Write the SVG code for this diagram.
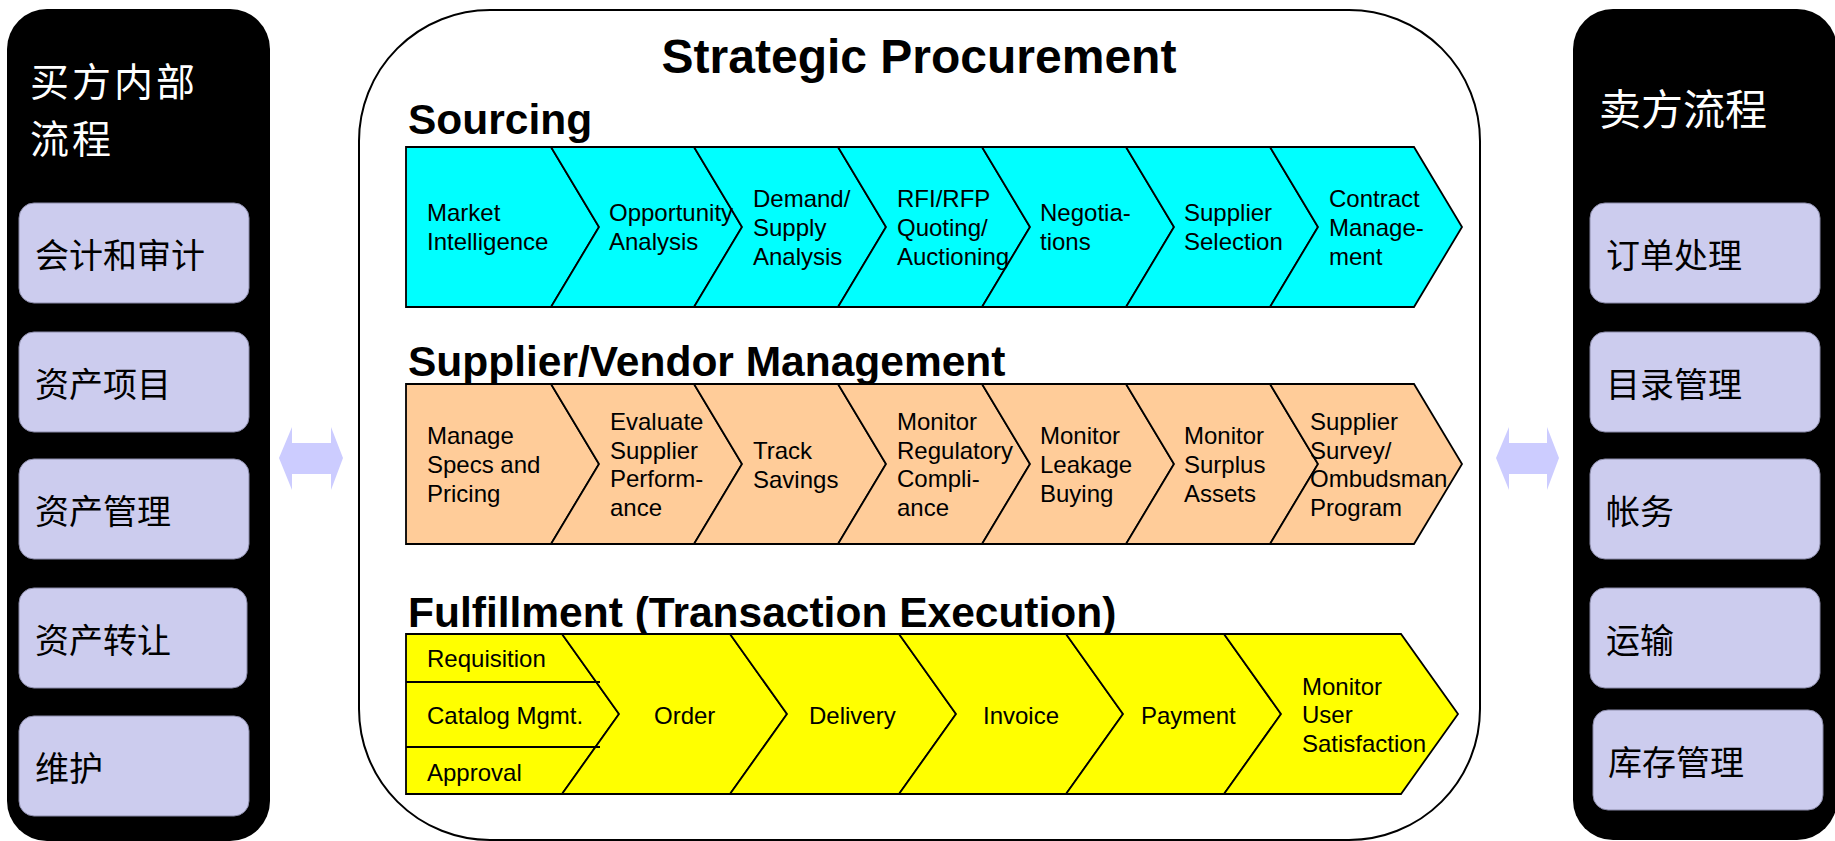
<svg xmlns="http://www.w3.org/2000/svg" width="1835" height="841" viewBox="0 0 1835 841">
<style>
.panel{fill:#000;}
.box{fill:#CCCCEE;stroke:#8a8aa8;stroke-width:1;}
.cnT{font-family:"Noto Sans CJK SC","Noto Sans CJK TC",sans-serif;font-size:42px;fill:#fff;}
.cnL{font-family:"Noto Sans CJK SC","Noto Sans CJK TC",sans-serif;font-size:39px;letter-spacing:3px;fill:#fff;}
.cn{font-family:"Noto Sans CJK SC","Noto Sans CJK TC",sans-serif;font-size:34px;fill:#000;}
.main{fill:#fff;stroke:#000;stroke-width:2;}
.title{font-family:"Liberation Sans",Arial,sans-serif;font-weight:bold;font-size:48px;fill:#000;}
.h{font-family:"Liberation Sans",Arial,sans-serif;font-weight:bold;font-size:42.5px;fill:#000;}
.t{font-family:"Liberation Sans",Arial,sans-serif;font-size:24px;fill:#000;}
.cy{fill:#00FFFF;stroke:#000;stroke-width:1.8;stroke-linejoin:miter;}
.pe{fill:#FFCC99;stroke:#000;stroke-width:1.8;stroke-linejoin:miter;}
.ye{fill:#FFFF00;stroke:#000;stroke-width:1.8;stroke-linejoin:miter;}
.dv{stroke:#000;stroke-width:1.8;}
.arr{fill:#CCCCFF;}
</style>

<g id="buyer-panel">
  <rect class="panel" x="7" y="9" width="263" height="832" rx="40"/>
  <text class="cnL"><tspan x="30" y="96">买方内部</tspan><tspan x="30" y="153">流程</tspan></text>
</g>
<g id="buyer-accounting"><rect class="box" x="19" y="203" width="230" height="100" rx="15"/><text class="cn" x="35" y="268">会计和审计</text></g>
<g id="buyer-asset-items"><rect class="box" x="19" y="332" width="230" height="100" rx="15"/><text class="cn" x="35" y="397">资产项目</text></g>
<g id="buyer-asset-mgmt"><rect class="box" x="19" y="459" width="230" height="100" rx="15"/><text class="cn" x="35" y="524">资产管理</text></g>
<g id="buyer-asset-transfer"><rect class="box" x="19" y="588" width="228" height="100" rx="15"/><text class="cn" x="35" y="653">资产转让</text></g>
<g id="buyer-maintenance"><rect class="box" x="19" y="716" width="230" height="100" rx="15"/><text class="cn" x="35" y="781">维护</text></g>

<g id="seller-panel">
  <rect class="panel" x="1573" y="9" width="264" height="831" rx="40"/>
  <text class="cnT" x="1599" y="125">卖方流程</text>
</g>
<g id="seller-order"><rect class="box" x="1590" y="203" width="230" height="100" rx="15"/><text class="cn" x="1606" y="268">订单处理</text></g>
<g id="seller-catalog"><rect class="box" x="1590" y="332" width="230" height="100" rx="15"/><text class="cn" x="1606" y="397">目录管理</text></g>
<g id="seller-accounts"><rect class="box" x="1590" y="459" width="230" height="100" rx="15"/><text class="cn" x="1606" y="524">帐务</text></g>
<g id="seller-shipping"><rect class="box" x="1590" y="588" width="230" height="100" rx="15"/><text class="cn" x="1606" y="653">运输</text></g>
<g id="seller-inventory"><rect class="box" x="1593" y="710" width="230" height="100" rx="15"/><text class="cn" x="1608" y="775">库存管理</text></g>

<g id="strategic-procurement">
  <rect class="main" x="359" y="10" width="1121" height="830" rx="131"/>
  <text class="title" x="919" y="73" text-anchor="middle">Strategic Procurement</text>
</g>

<g id="sourcing">
  <text class="h" x="408" y="134">Sourcing</text>
  <polygon class="cy" points="406,147 551,147 599,227 551,307 406,307"/>
  <polygon class="cy" points="551,147 694,147 742,227 694,307 551,307 599,227"/>
  <polygon class="cy" points="694,147 838,147 886,227 838,307 694,307 742,227"/>
  <polygon class="cy" points="838,147 982,147 1030,227 982,307 838,307 886,227"/>
  <polygon class="cy" points="982,147 1126,147 1174,227 1126,307 982,307 1030,227"/>
  <polygon class="cy" points="1126,147 1270,147 1318,227 1270,307 1126,307 1174,227"/>
  <polygon class="cy" points="1270,147 1414,147 1462,227 1414,307 1270,307 1318,227"/>
  <text class="t"><tspan x="427" y="221">Market</tspan><tspan x="427" y="250">Intelligence</tspan></text>
  <text class="t"><tspan x="609" y="221">Opportunity</tspan><tspan x="609" y="250">Analysis</tspan></text>
  <text class="t"><tspan x="753" y="207">Demand/</tspan><tspan x="753" y="236">Supply</tspan><tspan x="753" y="265">Analysis</tspan></text>
  <text class="t"><tspan x="897" y="207">RFI/RFP</tspan><tspan x="897" y="236">Quoting/</tspan><tspan x="897" y="265">Auctioning</tspan></text>
  <text class="t"><tspan x="1040" y="221">Negotia-</tspan><tspan x="1040" y="250">tions</tspan></text>
  <text class="t"><tspan x="1184" y="221">Supplier</tspan><tspan x="1184" y="250">Selection</tspan></text>
  <text class="t"><tspan x="1329" y="207">Contract</tspan><tspan x="1329" y="236">Manage-</tspan><tspan x="1329" y="265">ment</tspan></text>
</g>

<g id="supplier-vendor-management">
  <text class="h" x="408" y="376">Supplier/Vendor Management</text>
  <polygon class="pe" points="406,384 551,384 599,464 551,544 406,544"/>
  <polygon class="pe" points="551,384 694,384 742,464 694,544 551,544 599,464"/>
  <polygon class="pe" points="694,384 838,384 886,464 838,544 694,544 742,464"/>
  <polygon class="pe" points="838,384 982,384 1030,464 982,544 838,544 886,464"/>
  <polygon class="pe" points="982,384 1126,384 1174,464 1126,544 982,544 1030,464"/>
  <polygon class="pe" points="1126,384 1270,384 1318,464 1270,544 1126,544 1174,464"/>
  <polygon class="pe" points="1270,384 1414,384 1462,464 1414,544 1270,544 1318,464"/>
  <text class="t"><tspan x="427" y="444">Manage</tspan><tspan x="427" y="473">Specs and</tspan><tspan x="427" y="502">Pricing</tspan></text>
  <text class="t"><tspan x="610" y="430">Evaluate</tspan><tspan x="610" y="459">Supplier</tspan><tspan x="610" y="487">Perform-</tspan><tspan x="610" y="516">ance</tspan></text>
  <text class="t"><tspan x="753" y="459">Track</tspan><tspan x="753" y="488">Savings</tspan></text>
  <text class="t"><tspan x="897" y="430">Monitor</tspan><tspan x="897" y="459">Regulatory</tspan><tspan x="897" y="487">Compli-</tspan><tspan x="897" y="516">ance</tspan></text>
  <text class="t"><tspan x="1040" y="444">Monitor</tspan><tspan x="1040" y="473">Leakage</tspan><tspan x="1040" y="502">Buying</tspan></text>
  <text class="t"><tspan x="1184" y="444">Monitor</tspan><tspan x="1184" y="473">Surplus</tspan><tspan x="1184" y="502">Assets</tspan></text>
  <text class="t"><tspan x="1310" y="430">Supplier</tspan><tspan x="1310" y="459">Survey/</tspan><tspan x="1310" y="487">Ombudsman</tspan><tspan x="1310" y="516">Program</tspan></text>
</g>

<g id="fulfillment">
  <text class="h" x="408" y="627">Fulfillment (Transaction Execution)</text>
  <polygon class="ye" points="406,634 562,634 619,714 562,794 406,794"/>
  <polygon class="ye" points="562,634 730,634 787,714 730,794 562,794 619,714"/>
  <polygon class="ye" points="730,634 899,634 956,714 899,794 730,794 787,714"/>
  <polygon class="ye" points="899,634 1066,634 1123,714 1066,794 899,794 956,714"/>
  <polygon class="ye" points="1066,634 1224,634 1281,714 1224,794 1066,794 1123,714"/>
  <polygon class="ye" points="1224,634 1401,634 1458,714 1401,794 1224,794 1281,714"/>
  <line class="dv" x1="406" y1="682" x2="600" y2="682"/>
  <line class="dv" x1="406" y1="747" x2="600" y2="747"/>
  <text class="t" x="427" y="667">Requisition</text>
  <text class="t" x="427" y="724">Catalog Mgmt.</text>
  <text class="t" x="427" y="781">Approval</text>
  <text class="t" x="654" y="724">Order</text>
  <text class="t" x="809" y="724">Delivery</text>
  <text class="t" x="983" y="724">Invoice</text>
  <text class="t" x="1141" y="724">Payment</text>
  <text class="t"><tspan x="1302" y="695">Monitor</tspan><tspan x="1302" y="723">User</tspan><tspan x="1302" y="752">Satisfaction</tspan></text>
</g>

<g id="connectors">
  <polygon class="arr" points="279,458 292,427 292,443 331,443 331,427 343,458 331,490 331,474 292,474 292,490"/>
  <polygon class="arr" points="1496,458 1509,427 1509,443 1547,443 1547,427 1559,458 1547,490 1547,474 1509,474 1509,490"/>
</g>
</svg>
